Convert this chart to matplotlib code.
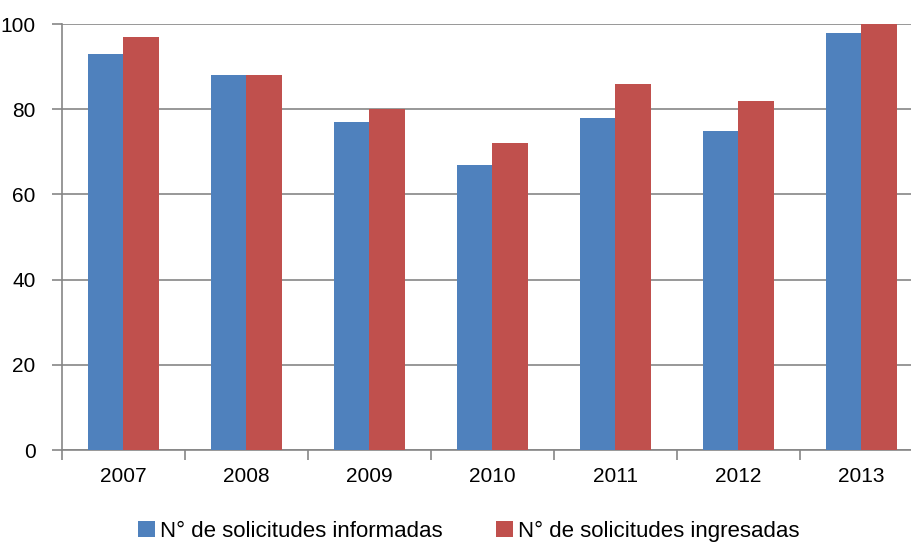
import numpy as np
import matplotlib
matplotlib.use("Agg")
import matplotlib.pyplot as plt

# datos
years = ["2007", "2008", "2009", "2010", "2011", "2012", "2013"]
informadas = [93, 88, 77, 67, 78, 75, 98]
ingresadas = [97, 88, 80, 72, 86, 82, 100]
yticks = [0, 20, 40, 60, 80, 100]

plt.rcParams['font.family'] = ['Liberation Sans Narrow', 'Liberation Sans', 'DejaVu Sans']

fig = plt.figure(figsize=(9.12, 5.43), dpi=100)
# el eje sigue un poco mas alla del borde derecho, como en el original
ax = fig.add_axes([62/912, 93/543, 861/912, 426/543])

x = np.arange(len(years)) + 0.5
w = 0.285
ax.bar(x - w/2, informadas, w, color='#4F81BD', label='N° de solicitudes informadas', zorder=3)
ax.bar(x + w/2, ingresadas, w, color='#C0504D', label='N° de solicitudes ingresadas', zorder=3)

ax.set_xlim(0, len(years))
ax.set_ylim(0, 100)
ax.set_yticks(yticks)
ax.yaxis.grid(True, color='#868686', linewidth=1.2, zorder=0)

# ticks del eje x en los limites de las categorias
ax.set_xticks(np.arange(len(years) + 1))
ax.set_xticklabels([])
ax.set_xticks(x, minor=True)
ax.set_xticklabels(years, minor=True)
ax.tick_params(axis='x', which='major', direction='out', length=7, color='#868686', width=1.2)
ax.tick_params(axis='x', which='minor', length=0, pad=12, labelsize=15)
ax.tick_params(axis='y', direction='out', length=7, color='#868686', width=1.2, pad=12, labelsize=15)

for s in ['top', 'right']:
    ax.spines[s].set_visible(False)
for s in ['left', 'bottom']:
    ax.spines[s].set_color('#868686')
    ax.spines[s].set_linewidth(1.2)

ax.legend(loc='center', bbox_to_anchor=(469/912, 12/543), bbox_transform=fig.transFigure,
          ncol=2, frameon=False, fontsize=16, handlelength=0.75, handleheight=0.75,
          handletextpad=0.25, columnspacing=2.4)

fig.savefig('out.png', dpi=100)
